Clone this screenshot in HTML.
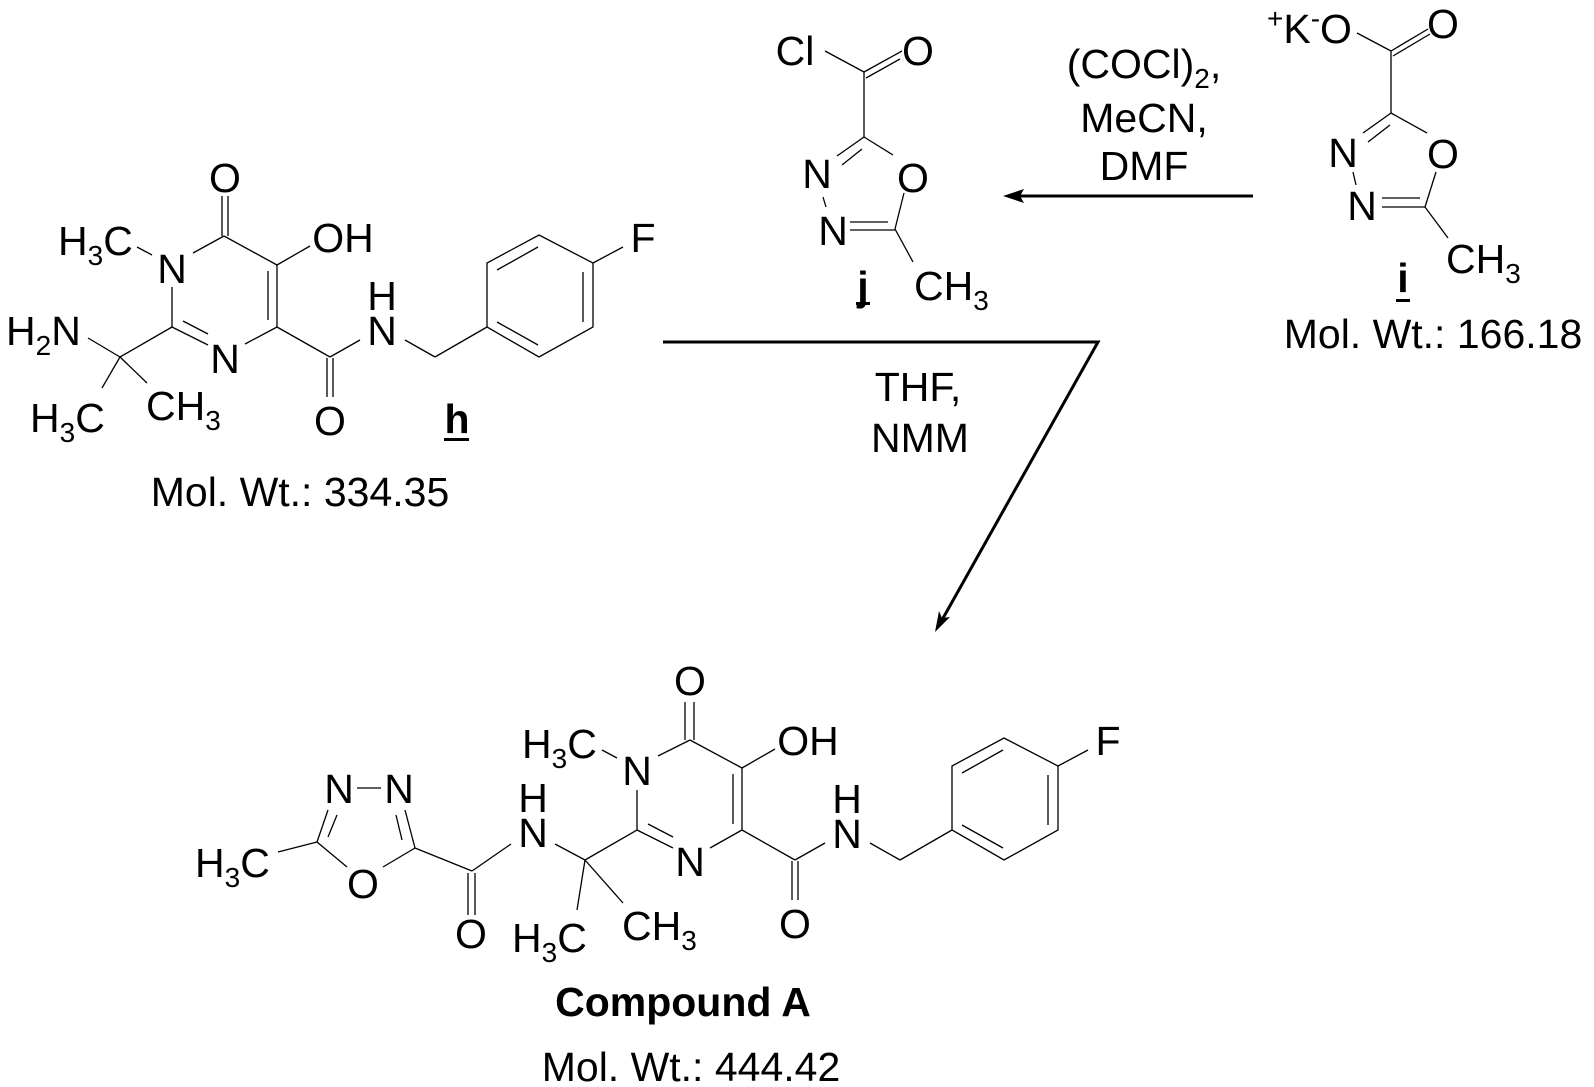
<!DOCTYPE html>
<html><head><meta charset="utf-8"><style>
html,body{margin:0;padding:0;background:#fff;}
svg{display:block;}
text{font-family:"Liberation Sans",Arial,sans-serif;font-size:41px;fill:#000;}
.s{font-size:28px;}
</style></head><body>
<svg width="1594" height="1087" viewBox="0 0 1594 1087" xmlns="http://www.w3.org/2000/svg">
<g stroke="#000" stroke-width="1.3" fill="none">
<!-- compound h -->
<line x1="222" y1="196" x2="222" y2="236"/><line x1="228" y1="196" x2="228" y2="236"/>
<line x1="224" y1="236" x2="193" y2="253"/>
<line x1="137" y1="247" x2="152" y2="255"/>
<line x1="172" y1="287" x2="172" y2="327"/>
<line x1="172" y1="327" x2="208" y2="345"/><line x1="183" y1="321" x2="208" y2="334"/>
<line x1="245" y1="344" x2="277" y2="327"/>
<line x1="277" y1="327" x2="277" y2="265"/><line x1="268" y1="271" x2="268" y2="320"/>
<line x1="277" y1="265" x2="224" y2="236"/>
<line x1="277" y1="265" x2="310" y2="246"/>
<line x1="172" y1="327" x2="120" y2="357"/>
<line x1="88" y1="338" x2="120" y2="357"/>
<line x1="120" y1="357" x2="102" y2="388"/>
<line x1="120" y1="357" x2="147" y2="383"/>
<line x1="277" y1="327" x2="330" y2="357"/>
<line x1="327" y1="358" x2="327" y2="397"/><line x1="333" y1="358" x2="333" y2="397"/>
<line x1="330" y1="357" x2="360" y2="340"/>
<line x1="405" y1="340" x2="435" y2="357"/><line x1="435" y1="357" x2="487" y2="327"/>
<polygon points="487,327 487,263 539,235 593,263 593,327 539,357"/>
<line x1="497" y1="270" x2="538" y2="247"/><line x1="583" y1="272" x2="583" y2="322"/><line x1="497" y1="322" x2="538" y2="345"/>
<line x1="593" y1="263" x2="623" y2="247"/>

<!-- compound j -->
<line x1="825" y1="51" x2="864" y2="72"/>
<line x1="864" y1="72" x2="902" y2="51"/><line x1="866" y1="78" x2="900" y2="59"/>
<line x1="864" y1="72" x2="864" y2="137"/>
<line x1="864" y1="137" x2="837" y2="156"/><line x1="842" y1="165" x2="862" y2="149"/>
<line x1="864" y1="137" x2="893" y2="155"/>
<line x1="823" y1="197" x2="826" y2="207"/>
<line x1="850" y1="222" x2="888" y2="222"/><line x1="850" y1="230" x2="895" y2="230"/>
<line x1="904" y1="193" x2="895" y2="229"/>
<line x1="895" y1="229" x2="913" y2="262"/>

<!-- compound i -->
<line x1="1357" y1="33" x2="1391" y2="51"/>
<line x1="1391" y1="51" x2="1428" y2="29"/><line x1="1393" y1="56" x2="1430" y2="34"/>
<line x1="1391" y1="51" x2="1391" y2="113"/>
<line x1="1391" y1="113" x2="1363" y2="133"/><line x1="1368" y1="142" x2="1390" y2="125"/>
<line x1="1391" y1="113" x2="1427" y2="133"/>
<line x1="1353" y1="172" x2="1356" y2="185"/>
<line x1="1382" y1="198" x2="1420" y2="198"/><line x1="1382" y1="207" x2="1425" y2="207"/>
<line x1="1436" y1="172" x2="1425" y2="207"/>
<line x1="1425" y1="207" x2="1448" y2="238"/>

<!-- compound A -->
<line x1="685" y1="702" x2="685" y2="740"/><line x1="694" y1="702" x2="694" y2="740"/>
<line x1="690" y1="740" x2="658" y2="756"/>
<line x1="602" y1="750" x2="617" y2="758"/>
<line x1="637" y1="790" x2="637" y2="830"/>
<line x1="637" y1="830" x2="673" y2="848"/><line x1="648" y1="824" x2="673" y2="837"/>
<line x1="710" y1="848" x2="742" y2="830"/>
<line x1="742" y1="830" x2="742" y2="768"/><line x1="733" y1="774" x2="733" y2="824"/>
<line x1="742" y1="768" x2="690" y2="740"/>
<line x1="742" y1="768" x2="775" y2="749"/>
<line x1="742" y1="830" x2="795" y2="860"/>
<line x1="792" y1="861" x2="792" y2="900"/><line x1="798" y1="861" x2="798" y2="900"/>
<line x1="795" y1="860" x2="825" y2="843"/>
<line x1="870" y1="843" x2="900" y2="860"/><line x1="900" y1="860" x2="952" y2="830"/>
<polygon points="952,830 952,766 1004,738 1058,766 1058,830 1004,860"/>
<line x1="962" y1="773" x2="1003" y2="750"/><line x1="1048" y1="775" x2="1048" y2="825"/><line x1="962" y1="825" x2="1003" y2="848"/>
<line x1="1058" y1="766" x2="1088" y2="750"/>
<line x1="637" y1="830" x2="585" y2="860"/>
<line x1="555" y1="844" x2="585" y2="860"/>
<line x1="585" y1="860" x2="577" y2="910"/>
<line x1="585" y1="860" x2="623" y2="903"/>
<line x1="511" y1="844" x2="472" y2="871"/>
<line x1="468" y1="873" x2="468" y2="915"/><line x1="475" y1="873" x2="475" y2="915"/>
<line x1="415" y1="848" x2="472" y2="871"/>
<line x1="357" y1="788" x2="381" y2="788"/>
<line x1="405" y1="810" x2="415" y2="848"/><line x1="396" y1="815" x2="402" y2="840"/>
<line x1="328" y1="810" x2="317" y2="842"/><line x1="337" y1="815" x2="328" y2="837"/>
<line x1="317" y1="842" x2="347" y2="867"/>
<line x1="415" y1="848" x2="383" y2="867"/>
<line x1="278" y1="852" x2="317" y2="842"/>
</g>

<!-- arrows -->
<g stroke="#000" stroke-width="3" fill="none">
<line x1="1018" y1="196" x2="1253" y2="196"/>
<polyline points="663,342 1098,342 942,620"/>
</g>
<polygon points="1003,196 1024,189 1020,196 1024,203" fill="#000"/>
<polygon points="935,632 939,611 942,618 950,617" fill="#000"/>

<!-- labels h -->
<text x="225" y="192" text-anchor="middle">O</text>
<text x="58" y="255">H<tspan class="s" dy="10">3</tspan><tspan dy="-10">C</tspan></text>
<text x="172" y="283" text-anchor="middle">N</text>
<text x="343" y="252" text-anchor="middle">OH</text>
<text x="6" y="345">H<tspan class="s" dy="10">2</tspan><tspan dy="-10">N</tspan></text>
<text x="225" y="373" text-anchor="middle">N</text>
<text x="30" y="432">H<tspan class="s" dy="10">3</tspan><tspan dy="-10">C</tspan></text>
<text x="146" y="420">CH<tspan class="s" dy="10">3</tspan></text>
<text x="330" y="435" text-anchor="middle">O</text>
<text x="382" y="345" text-anchor="middle">N</text>
<text x="382" y="310" text-anchor="middle">H</text>
<text x="643" y="252" text-anchor="middle">F</text>
<text x="457" y="433" text-anchor="middle" font-weight="bold">h</text>
<rect x="444" y="438" width="25" height="3" fill="#000"/>
<text x="300" y="506" text-anchor="middle" font-size="39">Mol. Wt.: 334.35</text>

<!-- labels j -->
<text x="795" y="65" text-anchor="middle">Cl</text>
<text x="918" y="65" text-anchor="middle">O</text>
<text x="817" y="188" text-anchor="middle">N</text>
<text x="913" y="192" text-anchor="middle">O</text>
<text x="833" y="245" text-anchor="middle">N</text>
<text x="914" y="300">CH<tspan class="s" dy="10">3</tspan></text>
<text x="863" y="300" text-anchor="middle" font-weight="bold">j</text>
<rect x="856" y="302" width="14" height="3" fill="#000"/>

<!-- reagents -->
<text x="1144" y="78" text-anchor="middle">(COCl)<tspan class="s" dy="10">2</tspan><tspan dy="-10">,</tspan></text>
<text x="1144" y="132" text-anchor="middle">MeCN,</text>
<text x="1144" y="180" text-anchor="middle">DMF</text>
<text x="918" y="401" text-anchor="middle">THF,</text>
<text x="920" y="452" text-anchor="middle">NMM</text>

<!-- labels i -->
<text x="1267" y="43"><tspan class="s" dy="-15">+</tspan><tspan dy="15">K</tspan><tspan class="s" dy="-15">-</tspan><tspan dy="15">O</tspan></text>
<text x="1443" y="38" text-anchor="middle">O</text>
<text x="1343" y="167" text-anchor="middle">N</text>
<text x="1443" y="168" text-anchor="middle">O</text>
<text x="1362" y="220" text-anchor="middle">N</text>
<text x="1446" y="273">CH<tspan class="s" dy="10">3</tspan></text>
<text x="1403" y="292" text-anchor="middle" font-weight="bold">i</text>
<rect x="1396" y="299" width="14" height="3" fill="#000"/>
<text x="1433" y="348" text-anchor="middle" font-size="43">Mol. Wt.: 166.18</text>

<!-- labels A -->
<text x="690" y="695" text-anchor="middle">O</text>
<text x="522" y="758">H<tspan class="s" dy="10">3</tspan><tspan dy="-10">C</tspan></text>
<text x="637" y="785" text-anchor="middle">N</text>
<text x="808" y="755" text-anchor="middle">OH</text>
<text x="690" y="876" text-anchor="middle">N</text>
<text x="795" y="938" text-anchor="middle">O</text>
<text x="847" y="848" text-anchor="middle">N</text>
<text x="847" y="813" text-anchor="middle">H</text>
<text x="1108" y="755" text-anchor="middle">F</text>
<text x="533" y="847" text-anchor="middle">N</text>
<text x="533" y="812" text-anchor="middle">H</text>
<text x="512" y="952">H<tspan class="s" dy="10">3</tspan><tspan dy="-10">C</tspan></text>
<text x="622" y="940">CH<tspan class="s" dy="10">3</tspan></text>
<text x="471" y="948" text-anchor="middle">O</text>
<text x="339" y="803" text-anchor="middle">N</text>
<text x="399" y="803" text-anchor="middle">N</text>
<text x="363" y="898" text-anchor="middle">O</text>
<text x="195" y="877">H<tspan class="s" dy="10">3</tspan><tspan dy="-10">C</tspan></text>
<text x="683" y="1016" text-anchor="middle" font-weight="bold" font-size="44">Compound A</text>
<text x="691" y="1081" text-anchor="middle" font-size="44">Mol. Wt.: 444.42</text>
</svg>
</body></html>
